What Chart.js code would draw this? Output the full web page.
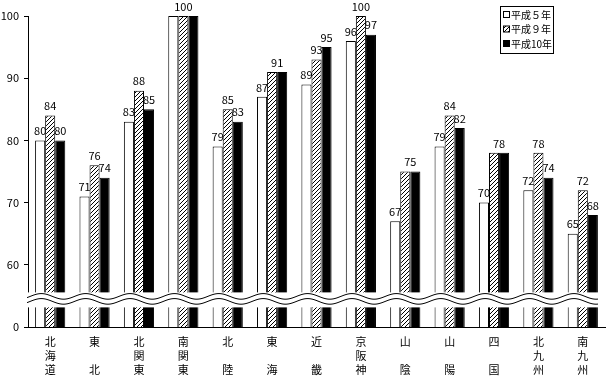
<!DOCTYPE html>
<html lang="ja">
<head>
<meta charset="UTF-8">
<title>地域別指数</title>
<script src="https://cdn.jsdelivr.net/npm/chart.js"></script>
<style>
  body { margin: 0; background: #fff; }
  #wrap { width: 613px; height: 377px; }
</style>
</head>
<body>
<div id="wrap"><canvas id="chart" width="613" height="377"></canvas></div>
<script>
// regions, written as stacked characters (one per line)
const regions = [
    ['北', '海', '道'], ['東', '', '北'], ['北', '関', '東'], ['南', '関', '東'],
    ['北', '', '陸'], ['東', '', '海'], ['近', '', '畿'], ['京', '阪', '神'],
    ['山', '', '陰'], ['山', '', '陽'], ['四', '', '国'], ['北', '九', '州'], ['南', '九', '州']
];
const h5 = [80, 71, 83, 100, 79, 87, 89, 96, 67, 79, 70, 72, 65];
const h9 = [84, 76, 88, 100, 85, 91, 93, 100, 75, 84, 78, 78, 72];
const h10 = [80, 74, 85, 100, 83, 91, 95, 97, 75, 82, 78, 74, 68];
const seriesNames = ['平成５年', '平成９年', '平成10年'];
const yTicks = [0, 60, 70, 80, 90, 100];

const FONT = "'Noto Sans CJK JP', 'DejaVu Sans', sans-serif";
// axis is broken: 0 is drawn one step below 60
const AXIS_ZERO = 50;

function hatch() {
    const c = document.createElement('canvas');
    c.width = 4; c.height = 4;
    const g = c.getContext('2d');
    g.fillStyle = '#fff';
    g.fillRect(0, 0, 4, 4);
    g.strokeStyle = '#000';
    g.lineWidth = 1;
    g.beginPath();
    g.moveTo(-1, 5); g.lineTo(5, -1);
    g.stroke();
    return g.createPattern(c, 'repeat');
}

// value labels over each bar; equal neighbours share one label
const valueLabels = {
    id: 'valueLabels',
    afterDatasetsDraw(chart) {
        const ctx = chart.ctx;
        const sets = chart.data.datasets;
        ctx.save();
        ctx.font = '11px ' + FONT;
        ctx.fillStyle = '#000';
        ctx.textAlign = 'center';
        ctx.textBaseline = 'bottom';
        regions.forEach((r, j) => {
            let i = 0;
            while (i < sets.length) {
                let k = i;
                while (k + 1 < sets.length && sets[k + 1].data[j] === sets[i].data[j]) k++;
                const first = chart.getDatasetMeta(i).data[j];
                const last = chart.getDatasetMeta(k).data[j];
                ctx.fillText(sets[i].data[j], (first.x + last.x) / 2, first.y - 4);
                i = k + 1;
            }
        });
        ctx.restore();
    }
};

// wavy break across the bottom of the plot
const axisBreak = {
    id: 'axisBreak',
    afterDatasetsDraw(chart) {
        const ctx = chart.ctx;
        const a = chart.chartArea;
        const y = chart.scales.y.getPixelForValue(54.6);
        const x0 = a.left - 1, x1 = a.right - 7;
        const per = (a.right - a.left) / 13;
        const wave = (off) => {
            ctx.beginPath();
            for (let x = x0; x <= x1; x += 1) {
                const yy = y + off - 2.8 * Math.sin((x - a.left - per * 0.05) / per * 2 * Math.PI);
                if (x === x0) ctx.moveTo(x, yy); else ctx.lineTo(x, yy);
            }
            ctx.stroke();
        };
        ctx.save();
        ctx.fillStyle = '#fff';
        ctx.fillRect(x0, y - 6, x1 - x0 + 2, 15);
        ctx.strokeStyle = '#000';
        ctx.lineWidth = 1;
        wave(-2);
        wave(3);
        ctx.restore();
    }
};

// boxed legend in the top right corner
const boxLegend = {
    id: 'boxLegend',
    afterDraw(chart) {
        const ctx = chart.ctx;
        const fills = chart.data.datasets.map(d => d.backgroundColor);
        ctx.save();
        ctx.strokeStyle = '#000';
        ctx.lineWidth = 1;
        ctx.fillStyle = '#fff';
        ctx.fillRect(500.5, 6.5, 53, 47);
        ctx.strokeRect(500.5, 6.5, 53, 47);
        ctx.font = '10px ' + FONT;
        ctx.textBaseline = 'middle';
        seriesNames.forEach((name, i) => {
            const cy = 15 + i * 14.5;
            ctx.fillStyle = fills[i];
            ctx.fillRect(503.5, cy - 3.5, 6, 6);
            ctx.strokeRect(503.5, cy - 3.5, 6, 6);
            ctx.fillStyle = '#000';
            ctx.fillText(name, 511, cy);
        });
        ctx.restore();
    }
};

new Chart(document.getElementById('chart'), {
    type: 'bar',
    data: {
        labels: regions,
        datasets: [
            { label: seriesNames[0], data: h5, backgroundColor: '#fff', borderColor: '#000', borderWidth: 1 },
            { label: seriesNames[1], data: h9, backgroundColor: hatch(), borderColor: '#000', borderWidth: 1 },
            { label: seriesNames[2], data: h10, backgroundColor: '#000', borderColor: '#000', borderWidth: 1 }
        ]
    },
    options: {
        responsive: false,
        animation: false,
        layout: { padding: { top: 16, right: 8, left: 0, bottom: 0 } },
        datasets: { bar: { categoryPercentage: 0.68, barPercentage: 1 } },
        plugins: { legend: { display: false }, tooltip: { enabled: false } },
        scales: {
            x: {
                grid: { display: false },
                border: { display: true, color: '#000', width: 1 },
                ticks: {
                    color: '#000', padding: 0, maxRotation: 0, autoSkip: false,
                    font: { family: FONT, size: 11, lineHeight: '14px' }
                },
                afterFit(s) { s.height = 50; }
            },
            y: {
                min: AXIS_ZERO, max: 100,
                afterBuildTicks(s) {
                    s.ticks = yTicks.map(v => ({ value: v === 0 ? AXIS_ZERO : v }));
                },
                grid: { drawOnChartArea: false, tickLength: 4, color: '#000' },
                border: { display: true, color: '#000', width: 1 },
                ticks: {
                    color: '#000', padding: 5,
                    font: { family: FONT, size: 11 },
                    callback: v => v === AXIS_ZERO ? '0' : v
                },
                afterFit(s) { s.width = 28; }
            }
        }
    },
    plugins: [valueLabels, axisBreak, boxLegend]
});
</script>
</body>
</html>
